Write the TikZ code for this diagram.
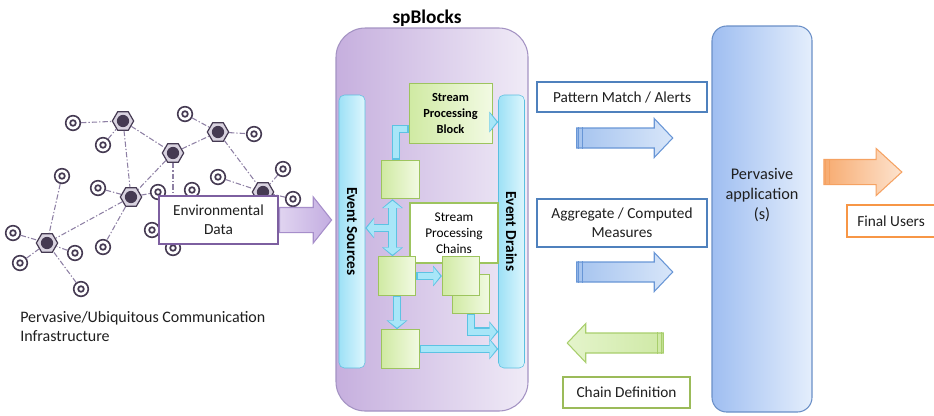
\documentclass[tikz,border=0pt]{standalone}
\usepackage{fontspec}
\setmainfont{Carlito}
\usetikzlibrary{arrows.meta}
\usetikzlibrary{calc}
\usetikzlibrary{positioning}
\usetikzlibrary{shapes.geometric}
\usetikzlibrary{shapes.arrows}

\definecolor{netdark}{HTML}{453A52}
\definecolor{netring}{HTML}{D9D3E0}
\definecolor{netlink}{HTML}{8E80A4}
\definecolor{spleft}{HTML}{C6AFDE}
\definecolor{spright}{HTML}{F0EBF7}
\definecolor{spline}{HTML}{A493C3}
\definecolor{barleft}{HTML}{9EE1F6}
\definecolor{barright}{HTML}{DDF6FD}
\definecolor{barline}{HTML}{5ABFE0}
\definecolor{grnleft}{HTML}{D0EAA3}
\definecolor{grnright}{HTML}{F2FAE3}
\definecolor{grnline}{HTML}{9DC45E}
\definecolor{flowline}{HTML}{5CC3E3}
\definecolor{flowfill}{HTML}{A8E6F8}
\definecolor{envline}{HTML}{7D5FA0}
\definecolor{envleft}{HTML}{E0D4F0}
\definecolor{envright}{HTML}{C3ADE1}
\definecolor{envarrline}{HTML}{A68ECA}
\definecolor{bluebox}{HTML}{4F81BD}
\definecolor{blueleft}{HTML}{A6C4EF}
\definecolor{blueright}{HTML}{D8E6F9}
\definecolor{blueline}{HTML}{6896D6}
\definecolor{greenbox}{HTML}{9BBB59}
\definecolor{gleft}{HTML}{E4F4CB}
\definecolor{gright}{HTML}{CFE9A6}
\definecolor{gline}{HTML}{A8CE6C}
\definecolor{appleft}{HTML}{9FBEF1}
\definecolor{appright}{HTML}{E4EEFC}
\definecolor{appline}{HTML}{6A8FC7}
\definecolor{orleft}{HTML}{F7AB70}
\definecolor{orright}{HTML}{FDE3CE}
\definecolor{orline}{HTML}{F5A262}
\definecolor{orbox}{HTML}{F79646}

\tikzset{gw/.style = {regular polygon, regular polygon sides=6, draw=netdark, fill=netring,
                      line width=0.9pt, minimum size=16pt, inner sep=0,
                      path picture={\fill[netdark] (path picture bounding box.center) circle (4.6pt);}}}
\tikzset{sn/.style = {circle, draw=netdark, fill=white, line width=1.2pt, minimum size=11pt, inner sep=0,
                      path picture={\draw[netdark, line width=1.3pt] (path picture bounding box.center) circle (2.1pt);}}}
\tikzset{link/.style = {netlink, line width=0.8pt, dash pattern=on 4pt off 1.5pt on 1pt off 1.5pt}}
\tikzset{txt/.style = {font=\fontsize{11.5}{14.5}\selectfont, align=center, text=black!88}}
\tikzset{tagbox/.style = {txt, fill=white, line width=1.6pt, inner sep=2pt}}
\tikzset{bar/.style = {draw=barline, left color=barleft, right color=barright, rounded corners=4pt,
                       minimum width=19.5pt, minimum height=204.75pt, inner sep=0,
                       font=\bfseries\fontsize{11.5}{13}\selectfont}}
\tikzset{blk/.style = {draw=grnline, left color=grnleft, right color=grnright, line width=0.6pt,
                       minimum width=28pt, minimum height=29pt, inner sep=0}}
\tikzset{flowout/.style = {draw=flowline, line width=6.6pt, >={Triangle[width=0pt 2.3, length=0pt 1]}}}
\tikzset{flowin/.style = {draw=flowfill, line width=4.8pt, shorten >=1.2pt, shorten <=1.2pt,
                          >={Triangle[width=0pt 2.75, length=0pt 1.1]}}}
\tikzset{bigarrow/.style = {single arrow, inner xsep=0pt, line width=0.8pt}}
\tikzset{bluearrow/.style = {bigarrow, draw=blueline, left color=blueleft, right color=blueright,
                             inner ysep=7.1pt, single arrow head extend=7.1pt,
                             single arrow tip angle=93, minimum height=72pt}}

\begin{document}
\begin{tikzpicture}[x=0.75pt, y=-0.75pt]
  \useasboundingbox (0,0) rectangle (934,415);

  % communication infrastructure
  \foreach \n/\px/\py in {1/123/121, 2/218/132, 3/173/153, 4/131/197, 5/47/243, 6/263/192}
    \node[gw] (gw\n) at (\px,\py) {};
  \foreach \n/\px/\py in {1/73/123, 2/103/145, 3/185/114, 4/254/134, 5/62/176, 6/98/188,
                          7/218/177, 8/283/169, 9/293/199, 10/158/192, 11/192/190, 12/13/233,
                          13/20/263, 14/75/253, 15/103/247, 16/152/230, 17/173/248, 18/81/289}
    \node[sn] (sn\n) at (\px,\py) {};
  \foreach \a/\b in {sn1/gw1, sn2/gw1, gw1/gw4, gw1/gw3, sn3/gw2, gw3/gw2, gw2/sn4, gw2/gw6,
                     gw3/gw4, gw3/sn17, sn7/gw6, sn8/gw6, sn9/gw6, sn6/gw4, gw4/sn15, gw4/gw5,
                     gw4/sn10, sn5/gw5, sn12/gw5, sn13/gw5, sn14/gw5, sn18/gw5}
    \draw[link] (\a) -- (\b);
  \node[txt, align=left, anchor=north west, inner sep=0, font=\fontsize{12}{14.5}\selectfont] (infra)
    at (20,311) {Pervasive/Ubiquitous Communication\\Infrastructure};

  \node[tagbox, draw=envline, minimum width=89.25pt, minimum height=36pt] (env) at (218.5,220) {Environmental\\Data};
  \node[bigarrow, draw=envarrline, left color=envleft, right color=envright, inner ysep=9pt,
        single arrow head extend=7.9pt, single arrow tip angle=103, minimum height=39pt, anchor=tail] (envarr) at (env.east) {};

  % spBlocks
  \node[draw=spline, left color=spleft, right color=spright, rounded corners=22pt, line width=0.8pt,
        minimum width=144pt, minimum height=287.25pt] (sp) at (432,219.5) {};
  \node[font=\bfseries\fontsize{14.5}{16}\selectfont] (sptitle) at (427,18) {spBlocks};
  \node[bar] (src) at (352,231.5) {\rotatebox{-90}{Event Sources}};
  \node[bar] (drn) at (511.5,231.5) {\rotatebox{-90}{Event Drains}};

  \node[blk, minimum width=62.25pt, minimum height=45pt, align=center,
        font=\bfseries\fontsize{9.3}{12}\selectfont] (spb) at (450.5,113) {Stream\\Processing\\Block};
  \node[blk] (b1) at (400.5,179.5) {};
  \node[draw=grnline, fill=white, line width=1.3pt, minimum width=66pt, minimum height=45pt,
        align=center, font=\fontsize{10}{12}\selectfont] (chains) at (454,233) {Stream\\Processing\\Chains};
  \node[blk] (b2) at (397,276) {};
  \node[blk] (b4) at (471,294) {};
  \node[blk] (b3) at (461,276) {};
  \node[blk] (b5) at (400.5,349) {};
  \coordinate (jn) at (392.5,228);

  \foreach \s in {flowout, flowin} {
    \draw[\s] ($(b1.north)+(-4.5,0)$) |- ($(spb.west)+(0,16)$);
    \draw[\s, ->] ($(spb.east)+(0,9)$) -- ($(spb.east -| drn.west)+(0,9)$);
    \draw[\s, <->] (jn |- b1.south) -- (jn |- b2.north);
    \draw[\s, ->] (jn) -- (jn -| src.east);
    \draw[\s, ->] (b2) -- (b3);
    \draw[\s, ->] (b2.south) -- (b2.south |- b5.north);
    \draw[\s, ->] (b4.south) |- ($(b4.south -| drn.west)+(0,18)$);
    \draw[\s, ->] (b5) -- (b5 -| drn.west);
  }

  % outputs and application
  \node[tagbox, draw=bluebox, minimum width=127.5pt, minimum height=22.5pt] (pm) at (622,97) {Pattern Match / Alerts};
  \node[tagbox, draw=bluebox, minimum width=127.5pt, minimum height=36pt] (agg) at (622,223) {Aggregate / Computed\\Measures};
  \node[tagbox, draw=greenbox, minimum width=95.25pt, minimum height=23.25pt] (cdef) at (626.5,392.5) {Chain Definition};
  \node[bluearrow] (pmarr) at (620,138) {};
  \node[bluearrow] (aggarr) at (620,272) {};
  \node[bigarrow, draw=gline, left color=gleft, right color=gright, inner ysep=7.1pt, shape border rotate=180,
        single arrow head extend=7.1pt, single arrow tip angle=93, minimum height=72pt] (cdefarr) at (620,343) {};
  \foreach \d in {2.5,6} {
    \draw[blueline, line width=0.8pt] ($(pmarr.before tail)+(\d,0)$) -- ($(pmarr.after tail)+(\d,0)$);
    \draw[blueline, line width=0.8pt] ($(aggarr.before tail)+(\d,0)$) -- ($(aggarr.after tail)+(\d,0)$);
    \draw[gline, line width=0.8pt] ($(cdefarr.before tail)+(-\d,0)$) -- ($(cdefarr.after tail)+(-\d,0)$);
  }

  \node[draw=appline, left color=appleft, right color=appright, rounded corners=11pt, line width=0.8pt,
        minimum width=75pt, minimum height=289.5pt] (app) at (762,219) {};
  \node[txt, font=\fontsize{12.2}{15}\selectfont] (apptxt) at ($(app.center)+(0,-24)$) {Pervasive\\application\\(s)};

  \node[bigarrow, draw=orline, left color=orleft, right color=orright, inner ysep=9pt,
        single arrow head extend=8.25pt, single arrow tip angle=85, minimum height=58.5pt] (usersarr) at (856,172) {};
  \foreach \d in {2.5,6}
    \draw[orline, line width=0.8pt] ($(usersarr.before tail)+(\d,0)$) -- ($(usersarr.after tail)+(\d,0)$);
  \node[tagbox, draw=orbox, minimum width=66pt, minimum height=24pt] (users) at (891,221) {Final Users};
\end{tikzpicture}
\end{document}
